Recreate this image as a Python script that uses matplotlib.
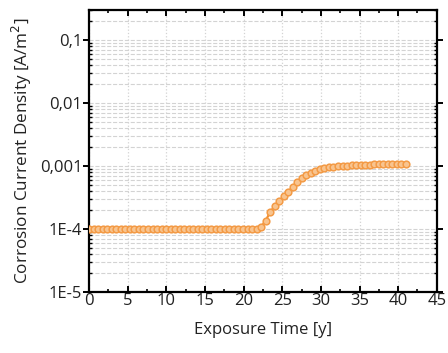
import numpy as np
import matplotlib
matplotlib.use('Agg')
import matplotlib.pyplot as plt
from matplotlib.ticker import LogLocator, NullFormatter, MultipleLocator

plt.rcParams['font.family'] = ['Open Sans', 'DejaVu Sans']

# exposure time [y], 71 samples from 0 to 41 y
time_y = np.linspace(0, 41, 71)
icorr = [1.0e-4] * 38 + [
    1.08e-4, 1.35e-4, 1.85e-4, 2.3e-4, 2.75e-4, 3.3e-4, 3.85e-4, 4.7e-4,
    5.5e-4, 6.35e-4, 7.2e-4, 7.8e-4, 8.25e-4, 8.8e-4, 9.2e-4, 9.45e-4,
    9.7e-4, 9.85e-4, 1.0e-3, 1.015e-3, 1.025e-3, 1.035e-3, 1.04e-3, 1.047e-3,
    1.053e-3, 1.058e-3, 1.063e-3, 1.066e-3, 1.07e-3, 1.073e-3, 1.077e-3, 1.08e-3,
    1.082e-3]

ytick_vals = [1e-5, 1e-4, 1e-3, 1e-2, 1e-1]
ytick_labels = ['1E-5', '1E-4', '0,001', '0,01', '0,1']

fig = plt.figure(figsize=(4.48, 3.53), dpi=100)
fig.set_facecolor('white')
ax = fig.add_axes([0.199, 0.173, 0.776, 0.799])

ax.plot(time_y, icorr, '-o', color='#F28E2B', linewidth=1.6,
        markersize=4.8, markerfacecolor='#F8C48F', markeredgecolor='#F39A45',
        markeredgewidth=1.1, zorder=3)

ax.set_yscale('log')
ax.set_ylim(1e-5, 0.3)
ax.set_xlim(0, 45)

ax.set_yticks(ytick_vals)
ax.set_yticklabels(ytick_labels)
ax.yaxis.set_minor_locator(LogLocator(base=10, subs=np.arange(2, 10)))
ax.yaxis.set_minor_formatter(NullFormatter())
ax.xaxis.set_major_locator(MultipleLocator(5))
ax.xaxis.set_minor_locator(MultipleLocator(2.5))

ax.grid(True, which='major', axis='x', color='#D3D3D3', linestyle=':', linewidth=0.9)
ax.grid(True, which='major', axis='y', color='#D3D3D3', linestyle='--', linewidth=0.8)
ax.grid(True, which='minor', axis='y', color='#D3D3D3', linestyle='--', linewidth=0.8)

for sp in ax.spines.values():
    sp.set_linewidth(1.6)

ax.tick_params(axis='x', which='major', direction='in', length=4, width=1.4,
               top=True, labelsize=12, pad=1, labelcolor='#222222')
ax.tick_params(axis='x', which='minor', direction='in', length=2.5, width=1.2, top=True)
ax.tick_params(axis='y', which='major', direction='out', length=4, width=1.4,
               right=True, labelsize=12, pad=1, labelcolor='#222222')
ax.tick_params(axis='y', which='minor', direction='in', length=2.5, width=1.0, right=True)

ax.set_xlabel('Exposure Time [y]', fontsize=12, labelpad=9, color='#222222')
ax.set_ylabel('Corrosion Current Density [A/m$^2$]', fontsize=12.3, labelpad=4, color='#222222')

fig.savefig('out.png', dpi=100)
